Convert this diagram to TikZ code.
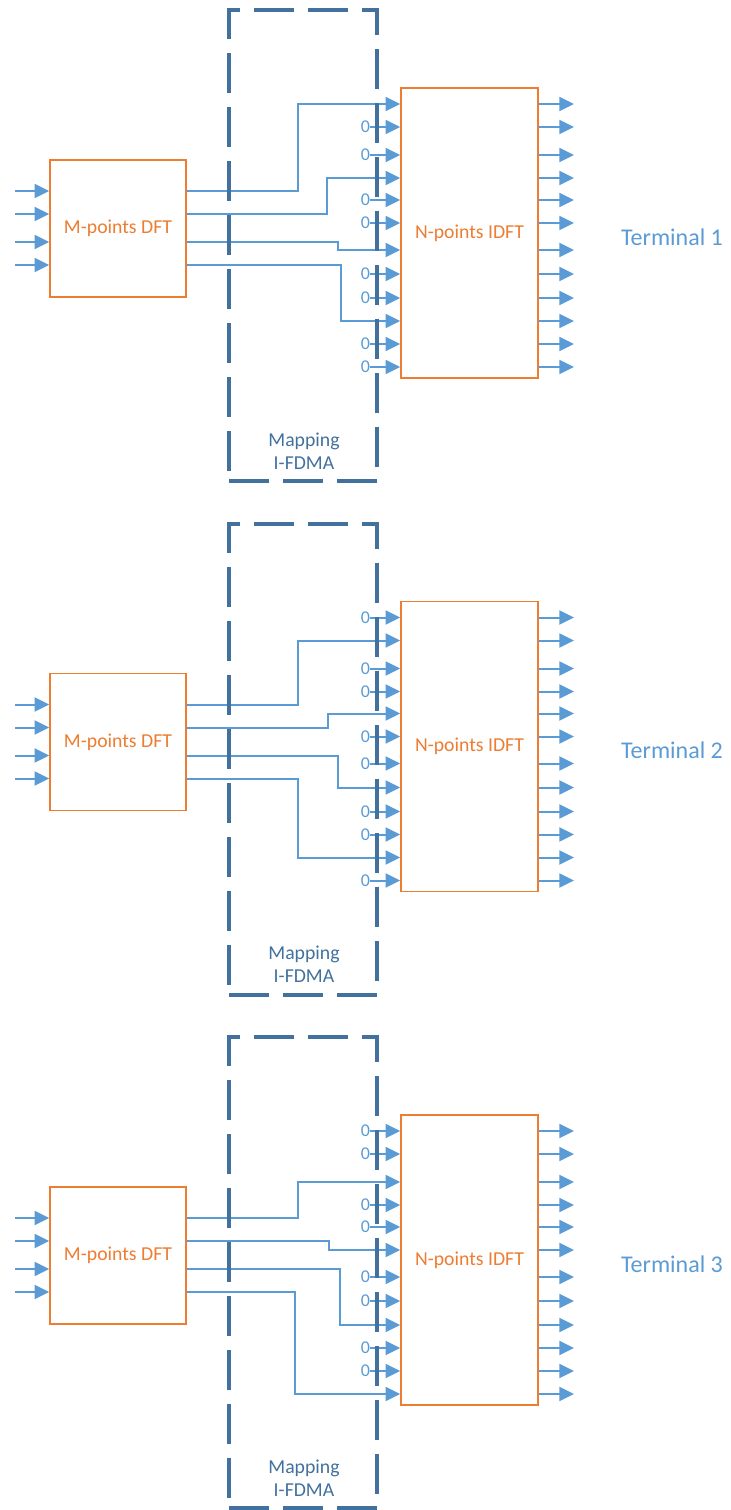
\documentclass[tikz,border=0pt]{standalone}
\usepackage{fontspec}
\setmainfont{Carlito}
\usetikzlibrary{arrows.meta}
\definecolor{lblue}{HTML}{5B9BD5}
\definecolor{dblue}{HTML}{41719C}
\definecolor{orng}{HTML}{ED7D31}
\begin{document}
\begin{tikzpicture}[x=0.75pt,y=-0.75pt,
  blk/.style={draw=orng, line width=1.1pt, fill=white, text=orng,
    font=\fontsize{14.8}{17}\selectfont, inner sep=0pt},
  arr/.style={draw=lblue, line width=1.5pt, -{Triangle[length=11pt,width=10.5pt]}, color=lblue},
  mapbox/.style={draw=dblue, line width=3pt, dash pattern=on 30pt off 10.5pt, inner sep=0pt,
    minimum width=111pt, minimum height=353.25pt},
  zero/.style={text=lblue, font=\fontsize{13.5}{15}\selectfont, inner sep=0pt},
  term/.style={text=lblue, font=\fontsize{18}{20}\selectfont, inner sep=0pt},
  maplbl/.style={text=dblue, font=\fontsize{14.8}{17.5}\selectfont, align=center, inner sep=0pt}]
\useasboundingbox (0,0) rectangle (731,1510);
\foreach \k/\a/\b/\c/\d/\ta/\tb/\tc/\td in {0/1/4/7/10/298/327/338/341, 1/2/5/8/11/298/328/338/298, 2/3/6/9/12/298/329/340/295}{
  \pgfmathsetmacro\dy{513.5*\k}
  \pgfmathtruncatemacro\n{\k+1}
  % blocks
  \node[blk, minimum width=102pt, minimum height=102.75pt] (dft\k) at (118,228.5+\dy) {M-points DFT};
  \node[blk, minimum width=102.75pt, minimum height=217.5pt] (idft\k) at (469.5,233+\dy) {N-points IDFT};
  \node[term] (term\k) at (672,237+\dy) {Terminal \n};
  % DFT inputs / outputs
  \foreach \j/\yy in {1/191,2/214,3/242,4/265}{
    \coordinate (src\k-\j) at (15,\yy+\dy);
    \draw[arr] (src\k-\j) -- (dft\k.west |- src\k-\j);
    \coordinate (do\k-\j) at (dft\k.east |- src\k-\j);
  }
  % IDFT ports
  \foreach \j/\yy in {1/104,2/127,3/155,4/178,5/200,6/223,7/250,8/274,9/298,10/321,11/344,12/367}{
    \coordinate (in\k-\j) at (idft\k.west |- 0,\yy+\dy);
    \coordinate (ou\k-\j) at (idft\k.east |- 0,\yy+\dy);
    \coordinate (oe\k-\j) at (574,\yy+\dy);
    \draw[arr] (ou\k-\j) -- (oe\k-\j);
    \pgfmathtruncatemacro\isdata{(mod(\j,3)==mod(\k+1,3))}
    \ifnum\isdata=0
      \node[zero] (z\k-\j) at (365.5,\yy+\dy) {0};
      \draw[arr] (z\k-\j.east) -- (in\k-\j);
    \fi
  }
  % routing
  \coordinate (ta\k) at (\ta,0);
  \coordinate (tb\k) at (\tb,0);
  \coordinate (tc\k) at (\tc,0);
  \coordinate (td\k) at (\td,0);
  \draw[arr] (do\k-1) -| (ta\k |- in\k-\a) -- (in\k-\a);
  \draw[arr] (do\k-2) -| (tb\k |- in\k-\b) -- (in\k-\b);
  \draw[arr] (do\k-3) -| (tc\k |- in\k-\c) -- (in\k-\c);
  \draw[arr] (do\k-4) -| (td\k |- in\k-\d) -- (in\k-\d);
  % mapping box
  \node[mapbox] (map\k) at (303,245.5+\dy) {};
  \node[maplbl] (ml\k) at (304,451+\dy) {Mapping\\I-FDMA};
}
\end{tikzpicture}
\end{document}
